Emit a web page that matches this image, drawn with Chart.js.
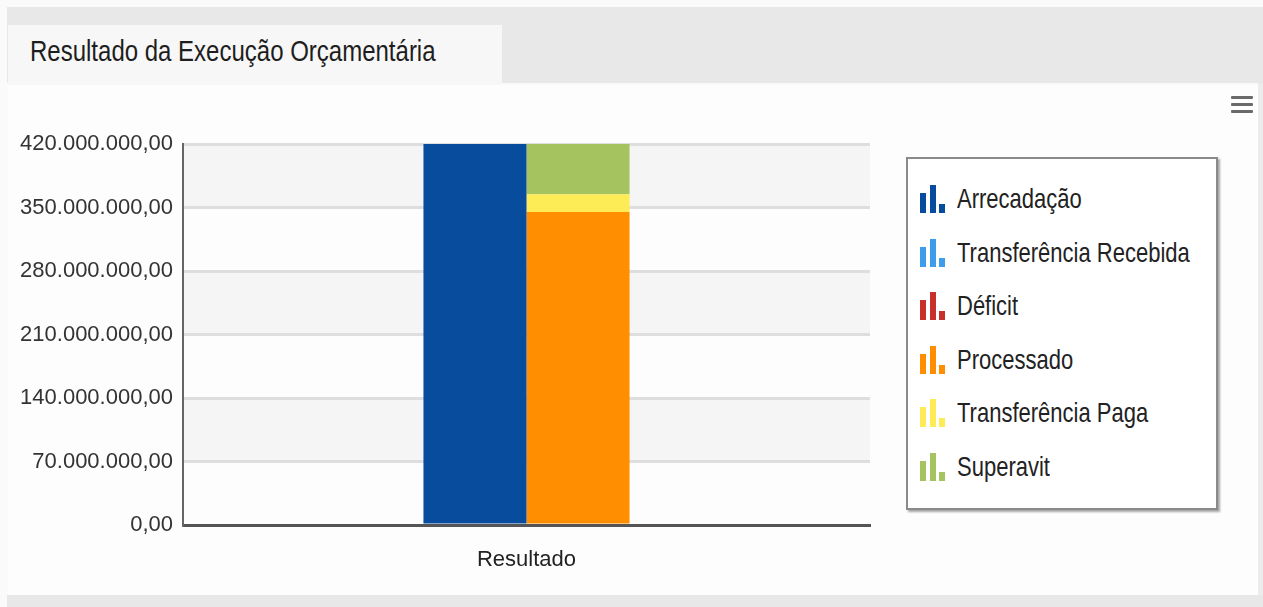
<!DOCTYPE html>
<html lang="pt-BR">
<head>
<meta charset="utf-8">
<title>Resultado da Execução Orçamentária</title>
<script src="https://cdn.jsdelivr.net/npm/chart.js@4"></script>
<style>
  html, body { margin: 0; padding: 0; }
  body { width: 1263px; height: 607px; position: relative; background: #fafafa; overflow: hidden; }
  .faixa_topo { position: absolute; left: 7px; top: 7px; width: 1256px; height: 76px; background: #e8e8e8; }
  .aba { position: absolute; left: 8px; top: 25px; width: 494px; height: 60px; background: #f7f7f7; }
  .aba span { position: absolute; left: 22px; top: 12px; color: #1e1e1e; white-space: nowrap;
              transform: scaleY(1.25); transform-origin: left center; }
  .painel { position: absolute; left: 8px; top: 85px; width: 1250px; height: 510px; background: #fdfdfd; }
  .borda_dir { position: absolute; left: 1258px; top: 83px; width: 5px; height: 524px; background: #ececec; }
  .rodape { position: absolute; left: 7px; top: 595px; width: 1256px; height: 12px; background: #e8e8e8; }
  .menu { position: absolute; left: 1231px; top: 96px; width: 22px; }
  .menu div { height: 3px; background: #6a6a6a; margin-bottom: 4px; border-radius: 1px; }
  .container_chart { position: absolute; left: 0; top: 90px; width: 880px; height: 505px; }
  .legenda { position: absolute; left: 906px; top: 157px; width: 308px; height: 349px; background: #fff;
             border: 2px solid #8a8a8a; box-shadow: 2px 2px 2px rgba(0,0,0,0.35); }
  .item { position: absolute; left: 12px; height: 32px; white-space: nowrap; }
  .icone { position: absolute; left: 0; top: 2px; width: 26px; height: 28px; }
  .icone i { position: absolute; bottom: 0; width: 6px; }
  .item span { position: absolute; left: 37px; top: 0; color: #222; line-height: 32px;
               transform: scaleY(1.25); transform-origin: left center; }
</style>
</head>
<body>
<div class="faixa_topo"></div>
<div class="aba"><span id="titulo">Resultado da Execução Orçamentária</span></div>
<div class="painel"></div>
<div class="borda_dir"></div>
<div class="rodape"></div>
<div class="menu"><div></div><div></div><div></div></div>
<div class="container_chart"><canvas id="myChart"></canvas></div>
<div class="legenda" id="legenda"></div>

<script>
const categorias = ['Resultado'];

const series = ['Arrecadação', 'Transferência Recebida', 'Déficit', 'Processado', 'Transferência Paga', 'Superavit'];
const pilhas = ['receita', 'receita', 'receita', 'despesa', 'despesa', 'despesa'];
const cores = ['#084c9e', '#3f9ceb', '#c8302c', '#ff8e00', '#fdec56', '#a5c45f'];

// valores (R$)
const arrecadacao = [420000000];
const transferenciaRecebida = [0];
const deficit = [0];
const processado = [345000000];
const transferenciaPaga = [19500000];
const superavit = [55500000];

const ticksY = [0, 70000000, 140000000, 210000000, 280000000, 350000000, 420000000];

const valores = [arrecadacao, transferenciaRecebida, deficit, processado, transferenciaPaga, superavit];

// fonte estreita se existir
function temFonte(nome) {
    const c = document.createElement('canvas').getContext('2d');
    c.font = '40px monospace';
    const a = c.measureText('Resultado abc 123').width;
    c.font = `40px "${nome}", monospace`;
    return c.measureText('Resultado abc 123').width !== a;
}
const estreita = temFonte('Liberation Sans Narrow');
const FONTE = estreita ? '"Liberation Sans Narrow", "Liberation Sans", Arial, sans-serif' : '"Liberation Sans", Arial, sans-serif';
const tam = estreita ? 27 : 22;
const tamTitulo = estreita ? 30 : 24;

const titulo = document.getElementById('titulo');
titulo.style.fontFamily = FONTE;
titulo.style.fontSize = tamTitulo + 'px';

function formatoBR(v) {
    const inteiro = Math.round(v).toString().replace(/\B(?=(\d{3})+(?!\d))/g, '.');
    return inteiro + ',00';
}

const faixas = {
    id: 'faixas',
    beforeDraw(chart) {
        const { ctx, chartArea, scales } = chart;
        ctx.save();
        ctx.fillStyle = '#f5f5f5';
        for (let i = ticksY.length - 1; i > 0; i -= 2) {
            const y1 = scales.y.getPixelForValue(ticksY[i]);
            const y2 = scales.y.getPixelForValue(ticksY[i - 1]);
            ctx.fillRect(chartArea.left, y1, chartArea.right - chartArea.left, y2 - y1);
        }
        ctx.restore();
    }
};

const ctx = document.getElementById('myChart');

const grafico = new Chart(ctx, {
    type: 'bar',
    data: {
        labels: categorias,
        datasets: series.map((nome, i) => ({
            label: nome,
            data: valores[i],
            stack: pilhas[i],
            backgroundColor: cores[i],
            borderWidth: 0
        }))
    },
    options: {
        responsive: true,
        maintainAspectRatio: false,
        animation: false,
        categoryPercentage: 0.3,
        barPercentage: 1,
        layout: { padding: { top: 54, right: 10, left: 0, bottom: 0 } },
        plugins: {
            legend: { display: false },
            tooltip: { enabled: false }
        },
        scales: {
            x: {
                stacked: true,
                grid: { display: false, drawTicks: false },
                border: { display: true, color: '#555', width: 3 },
                ticks: { color: '#222', font: { family: FONTE, size: tam }, padding: 22 },
                afterFit(scale) { scale.height = 70; }
            },
            y: {
                stacked: true,
                min: 0,
                max: 420000000,
                afterBuildTicks(scale) { scale.ticks = ticksY.map(v => ({ value: v })); },
                grid: { color: '#dedede', lineWidth: 3, drawTicks: false },
                border: { display: true, color: '#666', width: 2 },
                ticks: {
                    color: '#333',
                    font: { family: FONTE, size: tam },
                    padding: 10,
                    callback: v => formatoBR(v)
                },
                afterFit(scale) { scale.width = 183; }
            }
        }
    },
    plugins: [faixas]
});

// legenda em HTML montada a partir dos datasets
const legenda = document.getElementById('legenda');
grafico.data.datasets.forEach((ds, i) => {
    const item = document.createElement('div');
    item.className = 'item';
    item.style.top = (24 + i * 53.6) + 'px';
    item.innerHTML = `
        <div class="icone">
            <i style="left:0;height:20px;background:${ds.backgroundColor}"></i>
            <i style="left:10px;height:28px;background:${ds.backgroundColor}"></i>
            <i style="left:19px;height:9px;background:${ds.backgroundColor}"></i>
        </div>
        <span style="font-family:${FONTE.replace(/"/g, "'")};font-size:${tam}px">${ds.label}</span>
    `;
    legenda.appendChild(item);
});
</script>
</body>
</html>
